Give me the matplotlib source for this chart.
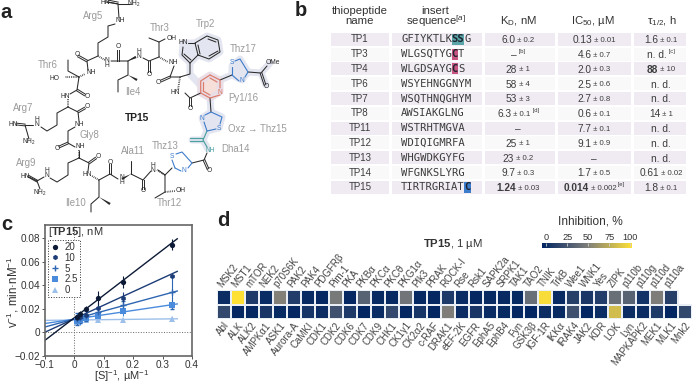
import numpy as np
import matplotlib
matplotlib.use('Agg')
from matplotlib import pyplot as plt
from matplotlib.colors import LinearSegmentedColormap
from matplotlib.lines import Line2D
from matplotlib.patches import Polygon, Rectangle

plt.rcParams['font.family'] = ['Liberation Sans', 'DejaVu Sans']
plt.rcParams['mathtext.fontset'] = 'custom'
plt.rcParams['mathtext.rm'] = 'Liberation Sans'
plt.rcParams['mathtext.bf'] = 'Liberation Sans:bold'
plt.rcParams['mathtext.it'] = 'Liberation Sans:italic'

# table data
names = ['TP1', 'TP3', 'TP4', 'TP6', 'TP7', 'TP8', 'TP11', 'TP12', 'TP13', 'TP14', 'TP15']
seqs = ['GFIYKTLKSSG', 'WLGSQTYGCT', 'WLGDSAYGCS', 'WSYEHNGGNYM', 'WSQTHNQGHYM', 'AWSIAKGLNG',
        'WSTRHTMGVA', 'WDIQIGMRFA', 'WHGWDKGYFG', 'WFGNKSLYRG', 'TIRTRGRIATC']
seq_marks = {0: ([8, 9], '#5aa5a8'), 1: ([8], '#c8557f'), 2: ([8], '#c8557f'), 10: ([10], '#3d7ccb')}
kd = ['6.0', '\u2013', '28', '58', '53', '6.3', '\u2013', '25', '23', '9.7', '1.24']
kd_err = ['0.2', '', '1', '4', '3', '0.1', '', '1', '0.2', '0.3', '0.03']
kd_note = {1: '[b]', 5: '[d]'}
ic50 = ['0.13', '4.6', '2.0', '2.5', '2.7', '0.6', '7.7', '9.1', '\u2013', '1.7', '0.014']
ic50_err = ['0.01', '0.7', '0.3', '0.6', '0.8', '0.1', '0.1', '0.9', '', '0.5', '0.002']
ic50_note = {10: '[e]'}
tau = ['1.6', 'n. d.', '88', 'n. d.', 'n. d.', '14', 'n. d.', 'n. d.', 'n. d.', '0.61', '1.8']
tau_err = ['0.1', '', '10', '', '', '1', '', '', '', '0.02', '0.1']
tau_note = {1: '[c]'}

# kinetics data
s_inv = np.array([0.333, 0.167, 0.083, 0.042, 0.021, 0.0104])
conc = ['20', '10', '5', '2.5', '0']
v_inv = [[0.0745, 0.043, 0.029, 0.020, 0.016, 0.013],
         [0.048, 0.029, 0.021, 0.015, 0.013, 0.012],
         [0.034, 0.023, 0.017, 0.014, 0.012, 0.0115],
         [0.0235, 0.018, 0.014, 0.012, 0.0105, 0.010],
         [0.0115, 0.0105, 0.0105, 0.0105, 0.0095, 0.009]]
v_err = [[0.005, 0.005, 0.006, 0.002, 0.002, 0.002],
         [0.001, 0.005, 0.004, 0.003, 0.002, 0.002],
         [0.014, 0.004, 0.004, 0.004, 0.004, 0.005],
         [0.004, 0.004, 0.003, 0.003, 0.004, 0.004],
         [0.002, 0.002, 0.002, 0.002, 0.002, 0.002]]
slopes = [0.192, 0.115, 0.068, 0.037, 0.003]
intercepts = [0.0122, 0.0115, 0.0113, 0.0112, 0.0105]
line_cols = ['#0c1a35', '#1d3d78', '#2e66b2', '#4a8bdc', '#9cc0ea']
markers = ['o', 'h', '+', 's', '^']

# selectivity panel data
kin_top = ['MSK2', 'MST1', 'mTOR', 'NEK2', 'p70S6K', 'PAK2', 'PAK4', 'PDGFR\u03b2', 'Pim-1', 'PKA', 'PKB\u03b1',
           'PKC\u03b1', 'PKC\u03b8', 'PKG1\u03b1', 'PIk3', 'PRAK', 'ROCK-I', 'Rse', 'Rsk1', 'SAPK2a', 'SRPK1', 'TAK1',
           'TAO2', 'TNIK', 'TrkB', 'Wee1', 'WNK1', 'Yes', 'ZIPK', 'p110b', 'p110g', 'p110d', 'p110a']
inh_top = [5, 100, 12, 4, 52, 14, 3, 2, 48, 2, 35, 3, 3, 45, 2, 2, 12, 4, 2, 3, 3, 3,
           42, 97, 3, 15, 10, 14, 42, 35, 8, 50, 15]
kin_bot = ['Abl', 'ALK', 'ALK2', 'AMPK\u03b11', 'ASK1', 'Aurora-A', 'CaMKI', 'CDK1', 'CDK2', 'CDK6', 'CDK7', 'CDK9',
           'CHK1', 'CK1\u03b31', 'CK2\u03b12', 'c-RAF', 'DRAK1', 'eEF-2K', 'EGFR', 'EphA5', 'EphB4', 'Fyn', 'GSK3\u03b2',
           'IGF-1R', 'IKK\u03b1', 'IRAK4', 'JAK2', 'KDR', 'LOK', 'Lyn', 'MAPKAPK2', 'MEK1', 'MLK1', 'Mnk2']
inh_bot = [20, 2, 2, 10, 3, 2, 9, 5, 25, 12, 1, 4, 20, 2, 9, 1, 50, 5, 10, 4, 3, 2, 1,
           5, 3, 25, 1, 5, 82, 5, 5, 12, 1, 20]

# structure drawing, px coordinates of the picture
bonds = [[(106, 2), (118, 4)], [(118, 4), (130, 4)], [(118, 4), (119, 18)],
         [(115, 24), (108, 26), (108, 37), (98, 43), (98, 56), (87, 61), (88, 70)],
         [(111, 61), (118, 61), (128, 61), (128, 75), (118, 80), (118, 92)],
         [(128, 61), (135, 57)], [(143, 58), (149, 61), (159, 57), (159, 42), (149, 38)], [(159, 42), (165, 39)],
         [(174, 66), (170, 77), (180, 77)], [(180, 77), (190, 74), (190, 63)],
         [(79, 77), (68, 71), (68, 60)], [(79, 77), (77, 90), (70, 94)], [(68, 107), (78, 112), (79, 121)],
         [(68, 107), (57, 113), (57, 125), (47, 131), (41, 127)], [(33, 125), (25, 125)], [(25, 125), (29, 139)],
         [(75, 127), (68, 131), (68, 143), (75, 147)], [(79, 151), (79, 158)],
         [(79, 158), (89, 163), (88, 171)], [(79, 158), (68, 163), (68, 175), (57, 182), (50, 178)],
         [(44, 177), (37, 181)], [(37, 181), (29, 177)], [(37, 181), (40, 189)],
         [(99, 180), (110, 174), (118, 179)], [(131, 174), (143, 180), (151, 171)], [(131, 174), (131, 161)],
         [(158, 170), (165, 175), (172, 168)], [(165, 175), (165, 192), (155, 198)],
         [(99, 180), (99, 197), (91, 204), (91, 212)],
         [(185, 93), (190, 98), (200.7, 93)], [(192, 163), (204, 160), (207, 153)],
         [(248, 72), (261, 73), (267, 66)], [(220, 80), (232, 75)], [(210, 98), (211, 112)]]
doubles = [[(108, 1), (118, 3)], [(87, 61), (78, 56)], [(118, 61), (118, 50)], [(149, 61), (149, 72)],
           [(170, 77), (161, 81)], [(77, 90), (85, 95)], [(78, 112), (85, 108)], [(68, 143), (59, 147)],
           [(89, 163), (96, 158)], [(110, 174), (110, 164)], [(143, 180), (143, 189)], [(190, 98), (190, 106)],
           [(204, 160), (208, 169)], [(261, 73), (265, 85)], [(25, 125), (16, 124)], [(37, 181), (28, 176)]]
wedges = [[(128, 75), (137, 80)], [(131, 174), (122, 179)], [(99, 197), (110, 204)], [(128, 61), (136, 57)]]
hashes = [[(98, 56), (105, 60)], [(79, 77), (85, 74)], [(79, 77), (65, 77)], [(68, 107), (68, 99)], [(79, 158), (79, 150)],
          [(99, 180), (92, 176)], [(165, 175), (157, 170)], [(165, 192), (175, 191)], [(159, 57), (168, 62)],
          [(180, 77), (178, 90)]]
indole = [(190, 63), (198, 55), (195, 43), (207, 36), (218, 40), (220, 52), (209, 59), (198, 55)]
indole2 = [(190, 63), (182, 55), (183, 47)]
indole3 = [(195, 43), (188, 43)]
indole_inner = [[(208, 39), (216, 42)], [(218, 51), (209, 56)], [(200, 54), (198, 45)], [(191, 60), (184, 54)]]
pyr = [(210, 75), (220, 80), (220, 88)]
pyr2 = [(220, 95), (210, 98), (200.7, 93), (200.7, 81), (210, 75)]
pyr_inner = [[(210, 78), (217, 82)], [(210, 95), (203, 91)], [(203, 82), (203, 90)]]
thz17 = [(232, 75), (232, 67)]
thz17b = [(235, 61), (240, 59), (248, 72), (245, 77)]
thz17c = [(239, 81), (232, 75)]
thz15 = [(207, 131), (204, 122)]
thz15b = [(205, 115), (211, 112), (222, 117), (220, 124)]
thz15c = [(216, 129), (207, 131)]
thz13 = [(175, 168), (172, 160)]
thz13b = [(176, 154), (182, 152), (192, 163), (188, 168)]
thz13c = [(181, 171), (175, 168)]
dha = [[(207, 131), (203, 140), (207, 147)], [(203, 141), (190, 141)], [(203, 138), (190, 138)]]
halo_poly = [[(207, 36), (218, 40), (220, 52), (209, 59), (198, 55), (195, 43)], [(190, 63), (182, 55), (183, 43), (195, 43), (198, 55)],
             [(232, 75), (232, 66), (240, 59), (248, 72), (242, 80)], [(207, 131), (202, 118), (211, 112), (222, 117), (219, 128)]]
halo_lines = [[(190, 63), (190, 74), (200, 85)], [(220, 80), (232, 75)], [(248, 72), (261, 73), (266, 85)],
              [(261, 73), (270, 63)], [(210, 98), (211, 112)], [(207, 131), (203, 140), (192, 140)], [(203, 140), (208, 149)]]
pyr_poly = [(210, 75), (220, 80), (220, 92), (210, 98), (200.7, 93), (200.7, 81)]
atom_labels = [('HN', 105, 3), ('NH$_2$', 134, 4), ('NH', 120, 21), ('N\nH', 107, 63), ('NH', 91, 73), ('HO', 55, 78),
               ('O', 77, 54), ('H\nN', 139, 54), ('O', 118, 47), ('O', 149, 75), ('OH', 172, 39), ('NH', 173, 63),
               ('O', 158, 82), ('HN', 175, 93), ('HN', 65, 96), ('O', 87, 97), ('O', 87, 107), ('HN', 13, 124),
               ('H\nN', 37, 122), ('NH$_2$', 29, 142), ('NH', 79, 124), ('O', 57, 148), ('NH', 80, 147), ('O', 98, 157),
               ('HN', 87, 174), ('O', 110, 162), ('HN', 25, 176), ('H\nN', 47, 173), ('NH$_2$', 40, 193),
               ('N\nH', 122, 180), ('O', 143, 191), ('H\nN', 153, 168), ('O', 190, 109), ('O', 209, 171),
               ('OH', 181, 191), ('O', 266, 87)]
halo_labels = [('HN', 183, 43), ('OMe', 273, 63)]
col_labels = [('S', 232, 63, '#3d7ccb'), ('N', 242, 80, '#3d7ccb'), ('S', 219, 128, '#3d7ccb'), ('N', 202, 118, '#3d7ccb'),
              ('S', 172, 156, '#3d7ccb'), ('N', 184, 171, '#3d7ccb'), ('N', 220, 92, '#d9705f'), ('NH', 210, 150, '#4ba0a0')]
residues = [('Arg5', 93, 16), ('Thr3', 160, 28), ('Thr6', 48, 65), ('Ile4', 133, 92), ('Arg7', 23, 108), ('Gly8', 89, 135),
            ('Ala11', 133, 151), ('Thz13', 165, 146), ('Arg9', 26, 163), ('Ile10', 76, 203), ('Thr12', 169, 203),
            ('Trp2', 205, 24), ('Thz17', 243, 49), ('Py1/16', 243, 98), ('Oxz \u2192 Thz15', 257, 129), ('Dha14', 236, 149)]

fig = plt.figure(figsize=(6.93, 3.83), dpi=100)
W, H = 693.0, 383.0
BOND = '#2a2a2a'
HALO = '#e3e5f0'


def px_axes(x0, y0, x1, y1):
    return fig.add_axes([x0 / W, 1 - y1 / H, (x1 - x0) / W, (y1 - y0) / H])


def draw_line(pts, col=BOND, lw=0.75, z=2):
    p = np.array(pts)
    ov.plot(p[:, 0], p[:, 1], color=col, lw=lw, zorder=z, solid_capstyle='round')


# Overlay in picture pixels for structure + table
ov = fig.add_axes([0, 0, 1, 1])
ov.set_xlim(0, W)
ov.set_ylim(H, 0)
ov.axis('off')

for l, x, y in [('a', 6, 13), ('b', 301, 11), ('c', 7, 224), ('d', 223, 221)]:
    ov.text(x, y, l, fontsize=14.5, fontweight='bold', color='#222222', ha='center', va='center')

# a: structure
for pts in halo_poly:
    ov.add_patch(Polygon(pts, closed=True, fc=HALO, ec=HALO, lw=5, joinstyle='round', zorder=1))
ov.add_patch(Polygon(pyr_poly, closed=True, fc='#f6dfd9', ec='#e9dde6', lw=5, joinstyle='round', zorder=1))
for pts in halo_lines:
    draw_line(pts, col=HALO, lw=5, z=0.9)
for pts in bonds + [indole, indole2, indole3] + indole_inner:
    draw_line(pts)
for a, b in doubles:
    a, b = np.array(a, float), np.array(b, float)
    n = np.array([-(b - a)[1], (b - a)[0]]) / np.hypot(*(b - a)) * 0.9
    ov.plot([a[0] + n[0], b[0] + n[0]], [a[1] + n[1], b[1] + n[1]], color=BOND, lw=0.7, zorder=2)
    ov.plot([a[0] - n[0], b[0] - n[0]], [a[1] - n[1], b[1] - n[1]], color=BOND, lw=0.7, zorder=2)
for a, b in wedges:
    a, b = np.array(a, float), np.array(b, float)
    n = np.array([-(b - a)[1], (b - a)[0]]) / np.hypot(*(b - a)) * 1.2
    ov.add_patch(Polygon([a, b + n, b - n], closed=True, color=BOND, lw=0, zorder=2))
for a, b in hashes:
    ov.plot([a[0], b[0]], [a[1], b[1]], color=BOND, lw=1.3, ls=(0, (0.4, 0.6)), zorder=2)
for pts in [pyr, pyr2] + pyr_inner:
    draw_line(pts, col='#dd7a68', lw=0.85, z=3)
for pts in [thz17, thz17b, thz17c, thz15, thz15b, thz15c, thz13, thz13b, thz13c]:
    draw_line(pts, col='#3d7ccb', lw=0.8, z=3)
for pts in dha:
    draw_line(pts, col='#4ba0a0', lw=0.85, z=3)
for s, x, y in atom_labels + halo_labels:
    ov.text(x, y, s, fontsize=4.8, color=BOND, ha='center', va='center', linespacing=0.75, zorder=4)
for s, x, y, c in col_labels:
    ov.text(x, y, s, fontsize=4.8, color=c, ha='center', va='center', zorder=4)
for s, x, y in residues:
    ov.text(x, y, s, fontsize=6.9, color='#9a9a9a', ha='center', va='center', zorder=5)
ov.text(137, 118, 'TP15', fontsize=7.4, fontweight='bold', color='#222222', ha='center', va='center')

# b: table
renderer = fig.canvas.get_renderer()
col_x = [(331, 389), (392, 482), (485, 555), (558, 631), (634, 686)]
row_y0, row_dy, row_h = 39.3, 14.8, 13
for i in range(len(names)):
    y = row_y0 + i * row_dy
    for x0, x1 in col_x:
        ov.add_patch(Rectangle((x0, y - row_h / 2), x1 - x0, row_h, fc='#f0ebf3' if i % 2 == 0 else '#f9f9f9', ec='none', zorder=0.5))


def parts_text(xc, y, parts):
    # parts are (string, fontsize, weight, raise); laid out one after another around xc
    items = []
    total = 0
    for s, size, weight, dy in parts:
        t = ov.text(0, y - dy, s, fontsize=size, fontweight=weight, color='#3c3c3c', ha='left', va='center_baseline', zorder=3)
        w = t.get_window_extent(renderer).width
        items.append((t, w))
        total += w
    x = xc - total / 2
    for t, w in items:
        t.set_x(x)
        x += w


def value_parts(val, err, note, bold=False):
    parts = [(val, 7.3, 'bold' if bold else 'normal', 0)]
    if err:
        parts.append((' \u00b1 ' + err, 5.6, 'normal', 0))
    if note:
        parts.append((' ' + note, 4.2, 'normal', 3))
    return parts


char_w = 6.33
seq_x = 401
for i in range(len(names)):
    y = row_y0 + i * row_dy
    ov.text(360, y, names[i], fontsize=7, color='#3c3c3c', ha='center', va='center', zorder=3)
    idx, col = seq_marks.get(i, ([], None))
    # runs of plain letters and marked letters go in separate texts
    k = 0
    while k < len(seqs[i]):
        marked = k in idx
        e = k + 1
        while e < len(seqs[i]) and (e in idx) == marked:
            e += 1
        if marked:
            ov.add_patch(Rectangle((seq_x + k * char_w, y - 5.5), (e - k) * char_w, 11, fc=col, ec='none', zorder=2))
        ov.text(seq_x + k * char_w, y, seqs[i][k:e], family='DejaVu Sans Mono', fontweight='bold' if marked else 'normal',
                fontsize=7.57, color='#1d2430' if marked else '#3c3c3c', ha='left', va='center', zorder=3)
        k = e
    parts_text(518, y, value_parts(kd[i], kd_err[i], kd_note.get(i), bold=names[i] == 'TP15'))
    parts_text(594, y, value_parts(ic50[i], ic50_err[i], ic50_note.get(i), bold=names[i] == 'TP15'))
    parts_text(661, y, value_parts(tau[i], tau_err[i], tau_note.get(i), bold=names[i] == 'TP4'))

hdr = dict(fontsize=8.2, color='#333333', ha='center', va='center')
ov.text(360, 11, 'thiopeptide', **hdr)
ov.text(360, 21, 'name', **hdr)
ov.text(435, 11, 'insert', **hdr)
ov.text(436, 21, 'sequence$^{[a]}$', **hdr)
ov.text(518, 21, 'K$_{\\mathrm{D}}$, nM', **hdr)
ov.text(593, 21, 'IC$_{50}$, \u00b5M', **hdr)
ov.text(662, 21, '\u03c4$_{1/2}$, h', **hdr)

# c: double reciprocal plot
ax = px_axes(44.5, 224.5, 192, 356)
handles = []
for i in range(len(conc)):
    xs = np.array([-0.1, 0.35])
    ms = 5 if i == 2 else 3.8
    ax.plot(xs, slopes[i] * xs + intercepts[i], color=line_cols[i], lw=1.0, zorder=2 + 0.1 * (5 - i))
    ax.errorbar(s_inv, v_inv[i], yerr=v_err[i], fmt=markers[i], color=line_cols[i], ms=ms,
                mew=1.0 if i == 2 else 0, elinewidth=0.8, capsize=1.3, capthick=0.6, zorder=3 + 0.1 * (5 - i))
    handles.append(Line2D([], [], ls='none', marker=markers[i], color=line_cols[i], ms=ms, mew=1.0 if i == 2 else 0, label=conc[i]))
ax.axhline(0, color='#666666', lw=0.7, ls=':', zorder=1)
ax.axvline(0, color='#666666', lw=0.7, ls=':', zorder=1)
ax.set_xlim(-0.1, 0.4)
ax.set_ylim(-0.02, 0.0915)
ax.set_xticks([-0.1, 0, 0.1, 0.2, 0.3, 0.4])
ax.set_xticklabels(['\u22120.1', '0', '0.1', '0.2', '0.3', '0.4'])
ax.set_yticks([-0.02, 0, 0.02, 0.04, 0.06, 0.08])
ax.set_yticklabels(['\u22120.02', '0', '0.02', '0.04', '0.06', '0.08'])
ax.tick_params(labelsize=7.2, length=2, width=0.7, pad=1, color='#555555', labelcolor='#333333')
for s in ax.spines.values():
    s.set_linewidth(1.2)
    s.set_color('#666666')
leg = ax.legend(handles=handles, loc='upper left', bbox_to_anchor=(0.022, 0.882), frameon=True, fancybox=False, fontsize=7,
                handletextpad=0.5, borderpad=0.2, borderaxespad=0, labelspacing=0.08, handlelength=1.0, framealpha=1,
                labelcolor='#333333')
leg.get_frame().set_linestyle(':')
leg.get_frame().set_edgecolor('#333333')
leg.get_frame().set_linewidth(0.7)
ov.text(48, 232, '[$\\mathbf{TP15}$], nM', fontsize=8, color='#333333', ha='left', va='center', zorder=10)
ov.text(122, 380.5, '[S]$^{-1}$, \u00b5M$^{-1}$', fontsize=8, color='#333333', ha='center', va='baseline')
ov.text(13, 292, 'v$^{-1}$, min\u00b7nM$^{-1}$', fontsize=8.4, color='#333333', ha='center', va='center', rotation=90)
ov.set_zorder(5)
ov.patch.set_visible(False)

# d: kinase map
cmap = LinearSegmentedColormap.from_list('inh', ['#002562', '#7d7d7a', '#ffe135'])
hm = px_axes(217.4, 289.8, 692, 319.2)
hm.pcolormesh(np.arange(len(inh_bot) + 1), [0, 1], np.array([inh_bot], float), cmap=cmap, vmin=0, vmax=100,
              edgecolors='#eaeef5', linewidth=1.2)
hm.pcolormesh(np.arange(len(inh_top) + 1), [1, 2], np.array([inh_top], float), cmap=cmap, vmin=0, vmax=100,
              edgecolors='#eaeef5', linewidth=1.2)
hm.set_xlim(0, len(inh_bot))
hm.set_ylim(0, 2)
hm.axis('off')
for i, s in enumerate(kin_top):
    hm.text(i + 0.45, 2.07, s, fontsize=7, color='#444444', rotation=52, rotation_mode='anchor', ha='left', va='bottom', clip_on=False)
for i, s in enumerate(kin_bot):
    hm.text(i + 0.45, -0.08, s, fontsize=7, color='#444444', rotation=52, rotation_mode='anchor', ha='right', va='top', clip_on=False)
ov.text(453.5, 244, '$\\mathbf{TP15}$, 1 \u00b5M', fontsize=8.2, color='#333333', ha='center', va='center')

cb = px_axes(542, 243, 632, 248)
cb.imshow(np.linspace(0, 1, 256)[None, :], cmap=cmap, aspect='auto', extent=(-5, 102, 0, 1))
cb.set_yticks([])
cb.xaxis.tick_top()
cb.set_xticks([0, 25, 50, 75, 100])
cb.tick_params(labelsize=6.6, length=2, width=0.6, pad=0.8, color='#cccccc', direction='in', labelcolor='#333333')
for s in cb.spines.values():
    s.set_visible(False)
ov.text(590, 222, 'Inhibition, %', fontsize=8.6, color='#333333', ha='center', va='center')

fig.savefig('out.png', dpi=100)
